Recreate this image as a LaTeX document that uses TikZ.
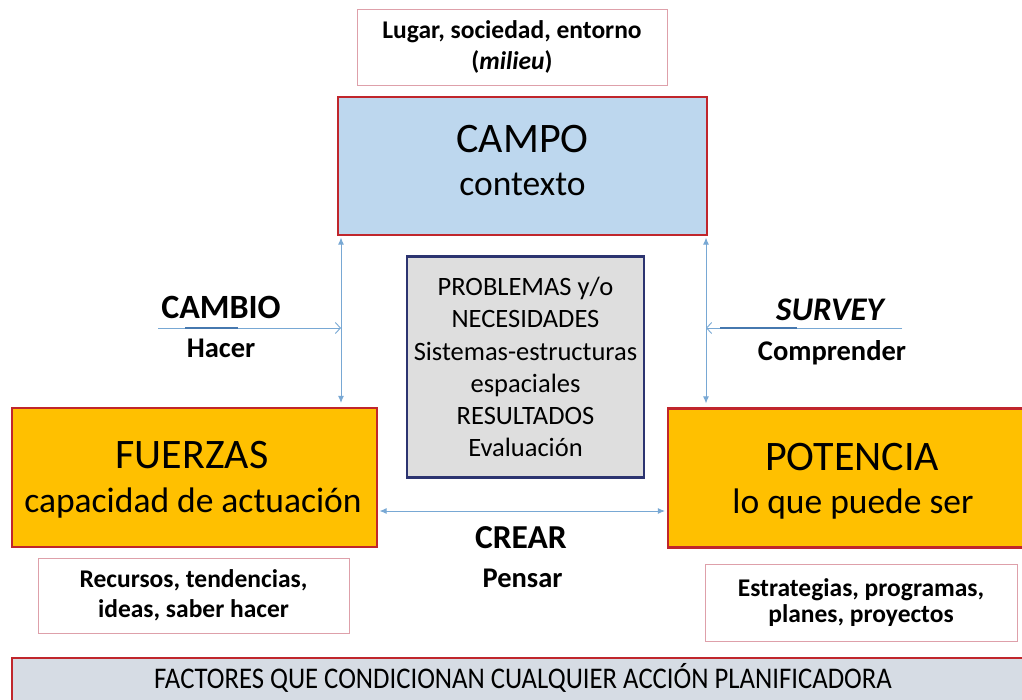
\documentclass[tikz,border=0pt]{standalone}
\usepackage{fontspec}
\setmainfont{Carlito}
\usetikzlibrary{arrows.meta,calc}
\definecolor{boxred}{RGB}{192,38,44}
\definecolor{campoblue}{RGB}{189,215,238}
\definecolor{fuerzaorange}{RGB}{255,192,0}
\definecolor{centergray}{RGB}{222,222,222}
\definecolor{navyline}{RGB}{44,52,112}
\definecolor{pinkline}{RGB}{222,160,170}
\definecolor{factorfill}{RGB}{214,220,228}
\definecolor{arrowblue}{RGB}{120,168,212}
\definecolor{darkseg}{RGB}{70,120,175}
\tikzset{
  mainbox/.style={draw=boxred,line width=2.2pt,inner sep=0pt},
  titletext/.style={anchor=base,inner sep=0pt,font=\fontsize{42}{46}\selectfont},
  subtext/.style={anchor=base,inner sep=0pt,font=\fontsize{35.5}{40}\selectfont},
  notebox/.style={draw=pinkline,line width=1pt,fill=white,align=center,inner sep=0pt},
  midlabel/.style={anchor=base,inner sep=0pt},
  biarrow/.style={draw=arrowblue,line width=0.9pt,{Latex[length=7pt,width=6pt]}-{Latex[length=7pt,width=6pt]}},
  openarrow/.style={draw=arrowblue,line width=0.9pt,-{Straight Barb[length=5pt,width=11pt]}},
  darkpart/.style={draw=darkseg,line width=1.1pt}
}
\begin{document}
\begin{tikzpicture}[x=1pt,y=-1pt]
\useasboundingbox (0,0) rectangle (1022,699);
\clip (0,0) rectangle (1022,699);
\fill[white] (0,0) rectangle (1022,699);

% boxes
\node[notebox,minimum width=310pt,minimum height=76pt,
  font=\fontsize{25.5}{31}\selectfont\bfseries] (lugar) at (512,47)
  {Lugar, sociedad, entorno\\(\textit{milieu})};
\node[mainbox,fill=campoblue,minimum width=369pt,minimum height=138pt] (campo) at (522.5,166) {};
\node[titletext] (campotitle) at (522.5,152) {CAMPO};
\node[subtext] (campotext) at (522.5,195) {contexto};

\node[draw=navyline,line width=2.5pt,fill=centergray,align=center,inner sep=0pt,
  minimum width=237pt,minimum height=221pt,
  font=\fontsize{26.5}{32.2}\selectfont] (centro) at (525.5,367)
  {PROBLEMAS y/o\\NECESIDADES\\Sistemas-estructuras\\espaciales\\RESULTADOS\\Evaluación};

\node[mainbox,fill=fuerzaorange,minimum width=365pt,minimum height=139pt] (fuerzas) at (194.5,477.5) {};
\node[titletext] (fuerzastitle) at (192,468) {FUERZAS};
\node[subtext] (fuerzastext) at (193,512) {capacidad de actuación};

\node[mainbox,fill=fuerzaorange,minimum width=368pt,minimum height=139pt] (potencia) at (852,478) {};
\node[titletext] (potenciatitle) at (852,470) {POTENCIA};
\node[subtext] (potenciatext) at (853,513) {lo que puede ser};

\node[notebox,minimum width=311pt,minimum height=75pt,
  font=\fontsize{25.5}{30}\selectfont\bfseries] (recursos) at (193.5,595.5)
  {Recursos, tendencias,\\ideas, saber hacer};
\node[notebox,minimum width=312pt,minimum height=77pt,
  font=\fontsize{25.5}{26.5}\selectfont\bfseries] (estrategias) at (861,602.5)
  {Estrategias, programas,\\planes, proyectos};
\node[draw=boxred,line width=2.2pt,fill=factorfill,inner sep=0pt,
  minimum width=1022pt,minimum height=48pt] (factores) at (523,682) {};
\node[anchor=base,inner sep=0pt,font=\fontsize{30}{34}\selectfont] (factorestext) at (523,688)
  {\scalebox{0.89}[1]{FACTORES QUE CONDICIONAN CUALQUIER ACCIÓN PLANIFICADORA}};

% labels
\node[midlabel,font=\fontsize{34}{38}\selectfont\bfseries] (cambio) at (221,318) {CAMBIO};
\node[midlabel,font=\fontsize{28.5}{33}\selectfont\bfseries] (hacer) at (221,357) {Hacer};
\node[midlabel,font=\fontsize{33}{38}\selectfont\bfseries\itshape] (survey) at (830,320) {SURVEY};
\node[midlabel,font=\fontsize{28.5}{33}\selectfont\bfseries] (comprender) at (832,360) {Comprender};
\node[midlabel,font=\fontsize{33.5}{38}\selectfont\bfseries] (crear) at (521,548) {CREAR};
\node[midlabel,font=\fontsize{28.5}{33}\selectfont\bfseries] (pensar) at (522.5,587) {Pensar};

% connectors
\coordinate (lx) at (341,0);
\coordinate (rx) at (706,0);
\coordinate (hy) at (0,511);
\coordinate (cambiostart) at (158,328);
\coordinate (surveystart) at (902,328);
\draw[biarrow,shorten <=1.5pt,shorten >=4pt] (campo.south -| lx) -- (fuerzas.north -| lx);
\draw[biarrow,shorten <=1.5pt,shorten >=4pt] (campo.south -| rx) -- (potencia.north -| rx);
\draw[biarrow,shorten <=1.5pt,shorten >=2pt] (fuerzas.east |- hy) -- (potencia.west |- hy);
\draw[openarrow] (cambiostart) -- (cambiostart -| lx);
\draw[openarrow] (surveystart) -- (surveystart -| rx);
\draw[darkpart] ($(cambiostart)+(27,0)$) -- ($(cambiostart)+(80,0)$);
\draw[darkpart] ($(surveystart)+(-105,0)$) -- ($(surveystart)+(-182,0)$);
\end{tikzpicture}
\end{document}
